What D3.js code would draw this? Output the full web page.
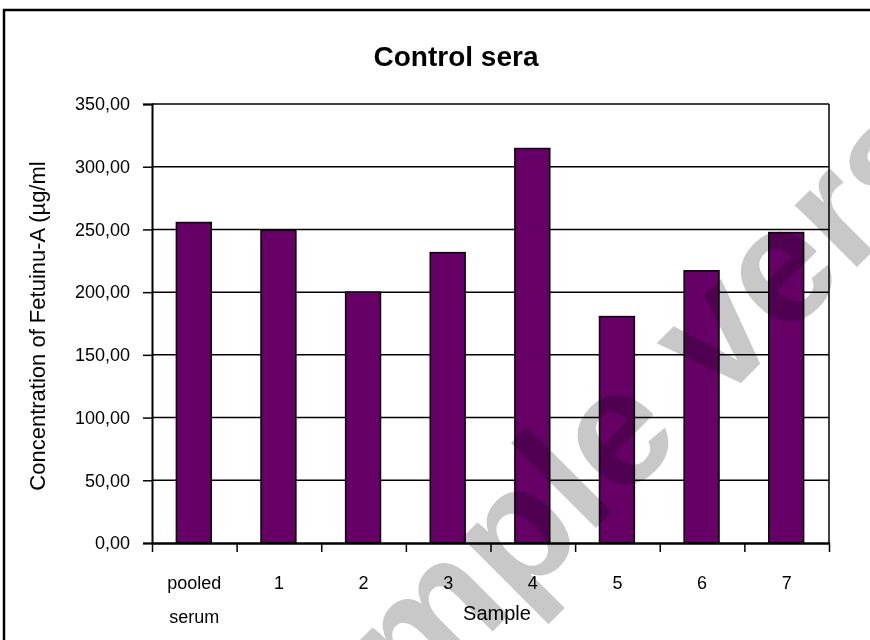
<!DOCTYPE html>
<html>
<head>
<meta charset="utf-8">
<script src="https://cdn.jsdelivr.net/npm/d3@7"></script>
<style>
  body { margin: 0; background: #fff; }
  text { font-family: "Liberation Sans", Arial, sans-serif; }
</style>
</head>
<body>
<svg id="chart" width="870" height="640"></svg>
<script>
// data
const categories = ["pooled serum", "1", "2", "3", "4", "5", "6", "7"];
const values = [255.5, 249.3, 200.0, 231.5, 314.5, 180.5, 217.0, 247.5];
const yTicks = [0, 50, 100, 150, 200, 250, 300, 350];
const title = "Control sera";
const xTitle = "Sample";
const yTitle = "Concentration of Fetuinu-A (µg/ml";

const svg = d3.select("#chart");
const margin = {top: 104, right: 41, bottom: 97, left: 152};
const width = 870 - margin.left - margin.right;
const height = 640 - margin.top - margin.bottom;

// outer frame (runs off the right and bottom edges)
svg.append("rect")
    .attr("x", 4).attr("y", 10)
    .attr("width", 900).attr("height", 700)
    .attr("fill", "none")
    .attr("stroke", "#000")
    .attr("stroke-width", 2.5);

svg.append("text")
    .attr("x", 456).attr("y", 66)
    .attr("text-anchor", "middle")
    .attr("font-size", 28)
    .attr("font-weight", "bold")
    .text(title);

const g = svg.append("g")
    .attr("transform", "translate(" + margin.left + "," + margin.top + ")");

const x = d3.scaleBand()
    .domain(categories)
    .range([0, width])
    .paddingInner(0.6)
    .paddingOuter(0.3);

const y = d3.scaleLinear()
    .domain([0, 350])
    .range([height, 0]);

// gridlines
g.selectAll(".grid")
    .data(yTicks.filter(d => d > 0))
    .enter()
    .append("line")
        .attr("x1", 0).attr("x2", width)
        .attr("y1", d => y(d)).attr("y2", d => y(d))
        .attr("stroke", "#000")
        .attr("stroke-width", 1.5);

// right border of the plot area
g.append("line")
    .attr("x1", width).attr("x2", width)
    .attr("y1", 0).attr("y2", height)
    .attr("stroke", "#000")
    .attr("stroke-width", 1.5);

// bars
g.selectAll(".bar")
    .data(values)
    .enter()
    .append("rect")
        .attr("x", (d, i) => x(categories[i]) - 1)
        .attr("y", d => y(d))
        .attr("width", x.bandwidth() + 1)
        .attr("height", d => height - y(d))
        .attr("fill", "#660066")
        .attr("stroke", "#000")
        .attr("stroke-width", 1.5);

// y axis
const yAxis = g.append("g")
    .call(d3.axisLeft(y)
        .tickValues(yTicks)
        .tickSize(9)
        .tickPadding(13)
        .tickFormat(d => d3.format(".2f")(d).replace(".", ",")));
yAxis.select(".domain").attr("stroke-width", 2);
yAxis.selectAll(".tick line").attr("stroke-width", 1.5);
yAxis.selectAll("text")
    .attr("font-size", 18)
    .attr("fill", "#000")
    .attr("font-family", "Liberation Sans, Arial, sans-serif");

// x axis: tick marks sit on category boundaries
const xEdges = d3.scaleLinear().domain([0, categories.length]).range([0, width]);
const xAxis = g.append("g")
    .attr("transform", "translate(0," + height + ")")
    .call(d3.axisBottom(xEdges)
        .tickValues(d3.range(categories.length + 1))
        .tickSize(9)
        .tickSizeOuter(0)
        .tickFormat(""));
xAxis.select(".domain").attr("stroke-width", 2.5);
xAxis.selectAll(".tick line").attr("stroke-width", 1.5);

// category labels
const labels = g.append("g")
    .selectAll(".xlabel")
    .data(categories)
    .enter()
    .append("text")
        .attr("text-anchor", "middle")
        .attr("font-size", 18)
        .attr("transform", d => "translate(" + (x(d) + x.bandwidth() / 2) + "," + (height + 46) + ")");
labels.selectAll("tspan")
    .data(d => d.split(" "))
    .enter()
    .append("tspan")
        .attr("x", 0)
        .attr("dy", (d, i) => i === 0 ? 0 : 34)
        .text(d => d);

svg.append("text")
    .attr("x", 497).attr("y", 620)
    .attr("text-anchor", "middle")
    .attr("font-size", 20)
    .text(xTitle);

svg.append("text")
    .attr("transform", "translate(45,326) rotate(-90)")
    .attr("text-anchor", "middle")
    .attr("font-size", 22)
    .text(yTitle);

// watermark
svg.append("text")
    .attr("transform", "translate(268,856) rotate(-45)")
    .attr("font-size", 166)
    .attr("font-weight", "bold")
    .attr("fill", "#c8c8c8")
    .style("mix-blend-mode", "multiply")
    .text("Sample version");
</script>
</body>
</html>
